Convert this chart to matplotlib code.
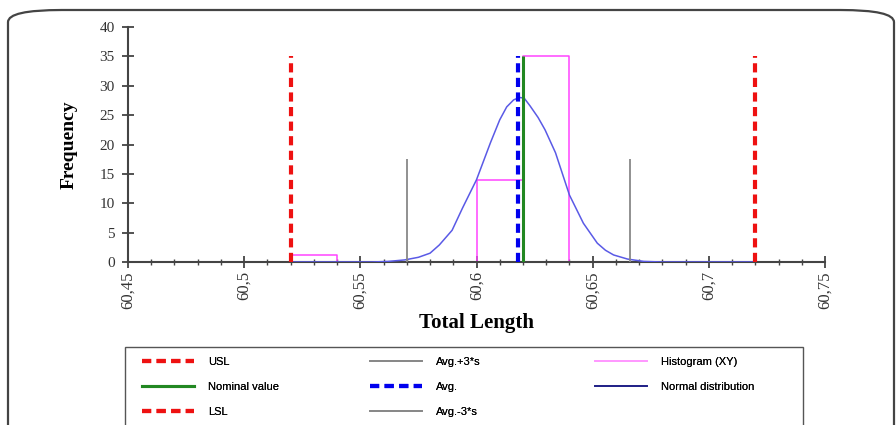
import matplotlib.pyplot as plt
from matplotlib.patches import FancyBboxPatch, Rectangle
from matplotlib.lines import Line2D
from matplotlib.ticker import MultipleLocator, FixedLocator

# limits and statistics
lsl = 60.52
usl = 60.72
nominal = 60.62
avg = 60.618
avg_plus_3s = 60.666
avg_minus_3s = 60.570
spec_height = 35
sigma_line_height = 17.5

# histogram drawn as an XY step line
hist_x = [60.48, 60.52, 60.52, 60.54, 60.54, 60.60, 60.60, 60.62, 60.62, 60.64, 60.64, 60.68]
hist_y = [0, 0, 1.2, 1.2, 0, 0, 14, 14, 35, 35, 0, 0]

# normal distribution curve points
norm_x = [60.52, 60.555, 60.562, 60.569, 60.575, 60.580, 60.584, 60.5895, 60.594,
          60.600, 60.606, 60.610, 60.613, 60.616, 60.6185, 60.6205, 60.623, 60.6265,
          60.6295, 60.634, 60.640, 60.646, 60.652, 60.6555, 60.659, 60.665, 60.672,
          60.68, 60.72]
norm_y = [0, 0, 0.1, 0.35, 0.8, 1.5, 2.9, 5.4, 9.2,
          14.0, 20.3, 24.2, 26.4, 27.6, 28.0, 27.9, 26.6, 24.6,
          22.5, 18.6, 11.4, 6.6, 3.2, 2.0, 1.2, 0.5, 0.1,
          0, 0]

x_ticks = [60.45, 60.5, 60.55, 60.6, 60.65, 60.7, 60.75]
x_labels = ["60,45", "60,5", "60,55", "60,6", "60,65", "60,7", "60,75"]

W, H = 896, 425
fig = plt.figure(figsize=(W / 100, H / 100), dpi=100)

# rounded outer frame
frame = FancyBboxPatch((8 / W, -0.2), (894 - 8) / W, 1.2 - 10 / H,
                       boxstyle="round,pad=0,rounding_size=0.06",
                       transform=fig.transFigure, facecolor='none',
                       edgecolor='#444444', lw=1.6, mutation_aspect=H / W, zorder=-1)
fig.patches.append(frame)

ax = fig.add_axes([128 / W, 1 - 262 / H, (825 - 128) / W, (262 - 27) / H])
ax.set_facecolor('none')

dash = (0, (2.2, 1.3))
ax.plot(hist_x, hist_y, color='#ff44ff', lw=1.1, zorder=2)
ax.plot(norm_x, norm_y, color='#5a5ae6', lw=1.1, zorder=3)
ax.vlines(usl, 0, spec_height, colors='#ee1111', linestyles=dash, lw=3, zorder=4)
ax.vlines(lsl, 0, spec_height, colors='#ee1111', linestyles=dash, lw=3, zorder=4)
ax.vlines([avg_minus_3s, avg_plus_3s], 0, sigma_line_height, colors='#888888', lw=1.3, zorder=4)
ax.vlines(nominal, 0, spec_height, colors='#228822', lw=2.2, zorder=4)
ax.vlines(avg, 0, spec_height, colors='#0000ee', linestyles=dash, lw=3, zorder=5)

ax.set_xlim(60.45, 60.75)
ax.set_ylim(0, 40)
ax.xaxis.set_major_locator(FixedLocator(x_ticks))
ax.set_xticklabels(x_labels, rotation=90, family='Liberation Serif', fontsize=12, color='#333333')
ax.xaxis.set_minor_locator(MultipleLocator(0.01))
ax.yaxis.set_major_locator(MultipleLocator(5))
for lbl in ax.get_yticklabels():
    lbl.set_family('Liberation Serif')
    lbl.set_fontsize(11)
    lbl.set_color('#333333')

for s in ['top', 'right']:
    ax.spines[s].set_visible(False)
for s in ['left', 'bottom']:
    ax.spines[s].set_color('#444444')
    ax.spines[s].set_linewidth(1.5)
ax.tick_params(axis='both', which='major', direction='inout', length=9, width=1.3, color='#444444')
ax.tick_params(axis='x', which='minor', direction='inout', length=5, width=1.0, color='#444444')
ax.tick_params(axis='x', pad=2)
ax.tick_params(axis='y', pad=5)

ax.set_xlabel('Total Length', family='Liberation Serif', fontweight='bold', fontsize=15, labelpad=3)
ax.set_ylabel('Frequency', family='Liberation Serif', fontweight='bold', fontsize=14, labelpad=16)

# legend: a frame plus three single-column legends
fig.patches.append(Rectangle((125 / W, -0.1), (803 - 125) / W, 0.1 + 1 - 347 / H,
                             transform=fig.transFigure, facecolor='none',
                             edgecolor='#555555', lw=1.0))

legend_cols = [
    ([Line2D([], [], color='#ee1111', lw=3, linestyle=dash),
      Line2D([], [], color='#228822', lw=2.2),
      Line2D([], [], color='#ee1111', lw=3, linestyle=dash)],
     ['USL', 'Nominal value', 'LSL'], 142),
    ([Line2D([], [], color='#888888', lw=1.3),
      Line2D([], [], color='#0000ee', lw=3, linestyle=dash),
      Line2D([], [], color='#888888', lw=1.3)],
     ['Avg.+3*s', 'Avg.', 'Avg.-3*s'], 370),
    ([Line2D([], [], color='#ff99ff', lw=1.3),
      Line2D([], [], color='#222288', lw=1.3)],
     ['Histogram (XY)', 'Normal distribution'], 595),
]
for handles, labels, x0 in legend_cols:
    lg = fig.legend(handles, labels, loc='upper left', bbox_to_anchor=(x0 / W, 1 - 357 / H),
                    frameon=False, prop={'family': 'Liberation Sans', 'size': 8},
                    handlelength=4.7, handletextpad=1.25, labelspacing=1.35,
                    borderaxespad=0, borderpad=0)
    fig.add_artist(lg)

fig.savefig('out.png', dpi=100)
